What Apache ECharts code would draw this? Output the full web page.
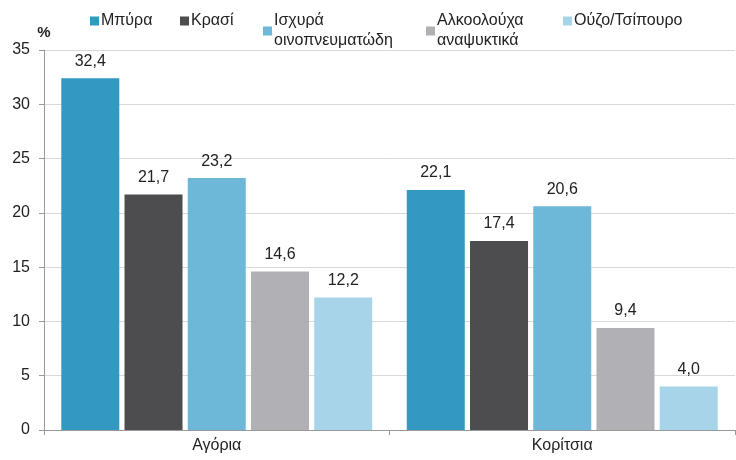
<!DOCTYPE html>
<html>
<head>
<meta charset="utf-8">
<title>Κατανάλωση αλκοόλ</title>
<script src="https://cdn.jsdelivr.net/npm/echarts@6/dist/echarts.min.js"></script>
<style>
  html, body { margin: 0; padding: 0; background: #fff; }
  #chart { width: 736px; height: 460px; }
</style>
</head>
<body>
<div id="chart"></div>
<script>
// κατηγορίες και σειρές
var categories = ['Αγόρια', 'Κορίτσια'];
var seriesNames = ['Μπύρα', 'Κρασί', 'Ισχυρά\nοινοπνευματώδη', 'Αλκοολούχα\nαναψυκτικά', 'Ούζο/Τσίπουρο'];
var beer = [32.4, 22.1];
var wine = [21.7, 17.4];
var spirits = [23.2, 20.6];
var alcopops = [14.6, 9.4];
var ouzo = [12.2, 4.0];
var yTicks = [0, 5, 10, 15, 20, 25, 30, 35];

var colors = ['#3399c3', '#4d4d4f', '#6db8d8', '#b1b1b5', '#a7d4e8'];
var values = [beer, wine, spirits, alcopops, ouzo];
var legendLeft = [90, 180, 263, 426, 563];
var FONT = 'Liberation Sans';

var chart = echarts.init(document.getElementById('chart'));

var legends = seriesNames.map(function (n, i) {
  return {
    data: [n],
    left: legendLeft[i],
    top: 13,
    padding: 0,
    itemWidth: 9,
    itemHeight: 9,
    itemGap: 2,
    icon: 'rect',
    textStyle: {
      fontFamily: FONT, fontSize: 16, color: '#222',
      lineHeight: 20, verticalAlign: 'top', padding: [-4, 0, 0, -3]
    }
  };
});

var series = seriesNames.map(function (n, i) {
  return {
    name: n,
    type: 'bar',
    data: values[i],
    barGap: '9%',
    barCategoryGap: '10%',
    itemStyle: { color: colors[i] },
    label: {
      show: true,
      position: 'top',
      distance: 9,
      fontFamily: FONT,
      fontSize: 16,
      color: '#222',
      formatter: function (p) { return p.value.toFixed(1).replace('.', ','); }
    }
  };
});

chart.setOption({
  animation: false,
  color: colors,
  legend: legends,
  grid: { left: 44, right: 1, top: 50, bottom: 30 },
  xAxis: {
    type: 'category',
    data: categories,
    axisLine: { lineStyle: { color: '#999' } },
    axisTick: { show: true, length: 5, lineStyle: { color: '#999' } },
    axisLabel: { fontFamily: FONT, fontSize: 16, color: '#222', margin: 8 }
  },
  yAxis: {
    type: 'value',
    min: yTicks[0],
    max: yTicks[yTicks.length - 1],
    interval: 5,
    name: '%',
    nameLocation: 'end',
    nameGap: 10,
    nameTextStyle: { fontFamily: FONT, fontSize: 15, fontWeight: 'bold', color: '#222', align: 'center' },
    axisLine: { show: true, lineStyle: { color: '#999' } },
    axisTick: { show: true, length: 5, lineStyle: { color: '#999' } },
    axisLabel: { fontFamily: FONT, fontSize: 16, color: '#222', margin: 14 },
    splitLine: { lineStyle: { color: '#d9d9d9' } }
  },
  series: series
});
</script>
</body>
</html>
